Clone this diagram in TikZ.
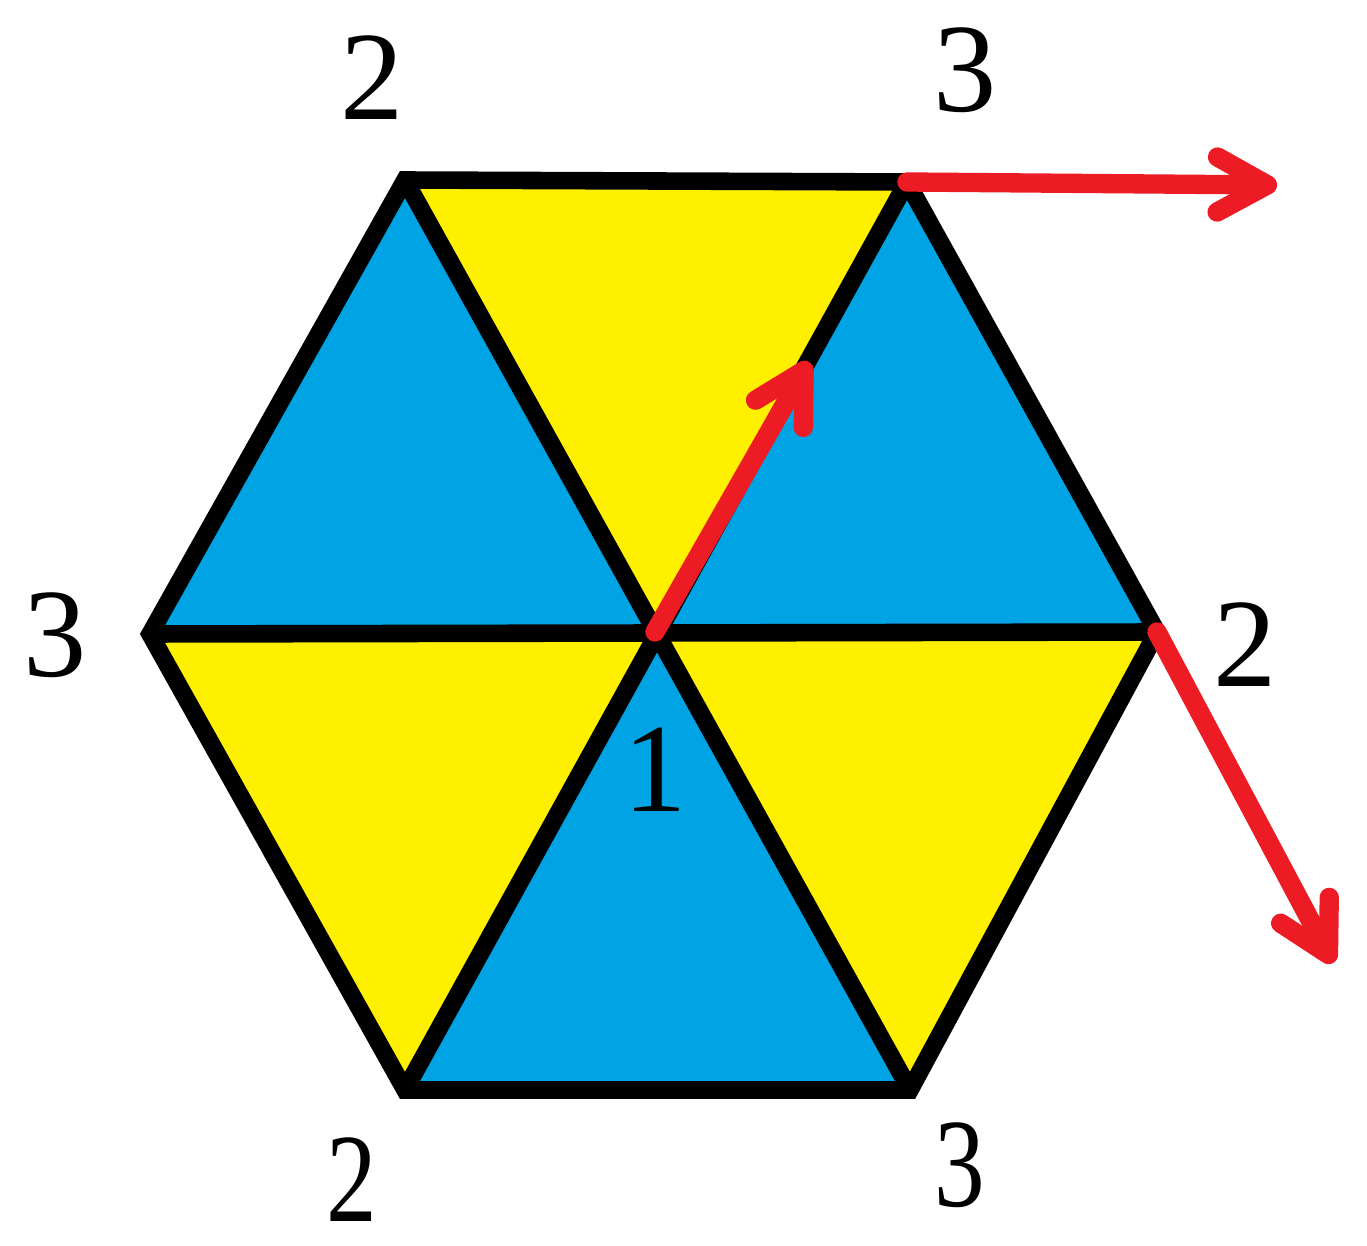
\documentclass[tikz,border=0pt]{standalone}
\usepackage{fontspec}
\setmainfont{Liberation Serif}
\usetikzlibrary{arrows.meta}
\definecolor{myblue}{RGB}{0,163,228}
\definecolor{myyellow}{RGB}{255,240,0}
\definecolor{myred}{RGB}{237,28,36}
\tikzset{
  edge/.style={line width=5pt, black},
  vec/.style={line width=5.5pt, myred, line cap=round, line join=round,
    -{Straight Barb[length=5mm, width=5.5mm, round]}},
  num/.style={inner sep=0pt, font=\fontsize{36}{36}\selectfont}
}
\begin{document}
\begin{tikzpicture}

\useasboundingbox (0,0) rectangle (13.67,12.46);

% Vertices
\coordinate (C)  at (6.55,6.14);
\coordinate (TL) at (4.05,10.66);
\coordinate (TR) at (9.07,10.64);
\coordinate (R)  at (11.57,6.14);
\coordinate (BR) at (9.10,1.56);
\coordinate (BL) at (4.05,1.56);
\coordinate (L)  at (1.50,6.12);

% Triangles
\fill[myyellow] (C) -- (TL) -- (TR) -- cycle;
\fill[myblue]   (C) -- (TR) -- (R) -- cycle;
\fill[myyellow] (C) -- (R) -- (BR) -- cycle;
\fill[myblue]   (C) -- (BR) -- (BL) -- cycle;
\fill[myyellow] (C) -- (BL) -- (L) -- cycle;
\fill[myblue]   (C) -- (L) -- (TL) -- cycle;

% Edges
\draw[edge] (TL) -- (TR) -- (R) -- (BR) -- (BL) -- (L) -- cycle;
\draw[edge] (L) -- (R);
\draw[edge] (TL) -- (BR);
\draw[edge] (TR) -- (BL);

% Vectors
\coordinate (tipC) at (8.09,8.84);
\coordinate (tipT) at (12.77,10.61);
\coordinate (tipR) at (13.33,2.83);
\draw[vec] (C) -- (tipC);
\draw[vec] (TR) -- (tipT);
\draw[vec] (R) -- (tipR);

% Labels
\node[num] (nTL) at (3.72,11.68) {2};
\node[num] (nTR) at (9.65,11.76) {3};
\node[num] (nL)  at (0.55,6.11) {3};
\node[num] (nR)  at (12.45,6.01) {2};
\node[num, xscale=0.8] (nBL) at (3.52,0.66) {2};
\node[num, xscale=0.8] (nBR) at (9.60,0.81) {3};
\node[num] (nC)  at (6.55,4.76) {1};

\end{tikzpicture}
\end{document}
